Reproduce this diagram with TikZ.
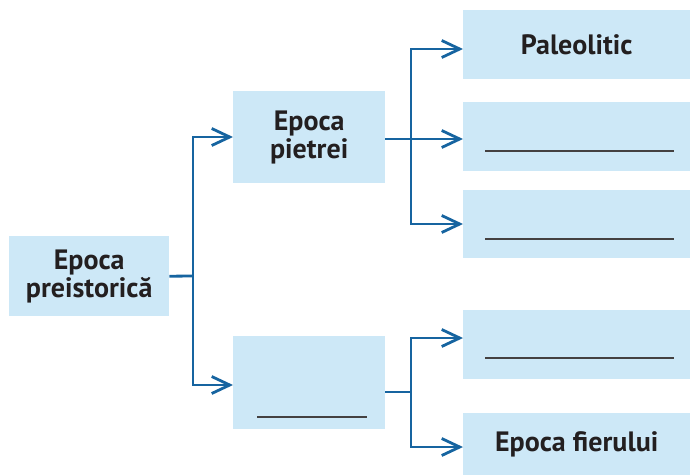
\documentclass[tikz,border=0pt]{standalone}
\usepackage{fontspec}
\setmainfont{PT Sans}
\usetikzlibrary{arrows.meta}
\definecolor{boxfill}{HTML}{CDE8F7}
\definecolor{linec}{HTML}{1664A0}
\definecolor{txt}{HTML}{231F20}
\begin{document}
\begin{tikzpicture}[x=1pt,y=-1pt,
  box/.style={fill=boxfill, inner sep=0pt, anchor=north west, align=center, text=txt,
    font=\fontsize{28}{28}\selectfont\bfseries},
  conn/.style={draw=linec, line width=2.8pt},
  arr/.style={conn, -{Straight Barb[length=18pt,width=17pt]}},
  blank/.style={draw=txt!85, line width=1.6pt}]
\path[use as bounding box] (0,0) rectangle (690,475);
% boxes
\node[box, minimum width=160pt, minimum height=80pt] (root) at (9,236) {Epoca\\preistorică};
\node[box, minimum width=152pt, minimum height=92pt] (pietrei) at (233,91) {Epoca\\pietrei};
\node[box, minimum width=152pt, minimum height=93pt] (mid2) at (233,336) {};
\node[box, minimum width=227pt, minimum height=69pt] (p1) at (463,10) {Paleolitic};
\node[box, minimum width=227pt, minimum height=69pt] (p2) at (463,102) {};
\node[box, minimum width=227pt, minimum height=68pt] (p3) at (463,190) {};
\node[box, minimum width=227pt, minimum height=69pt] (p4) at (463,310) {};
\node[box, minimum width=227pt, minimum height=62pt] (p5) at (463,413) {Epoca fierului};
% blank lines
\draw[blank] (485,151) -- (674,151);
\draw[blank] (485,239) -- (674,239);
\draw[blank] (485,358) -- (674,358);
\draw[blank] (257,417) -- (367,417);
% connectors from root
\coordinate (j1) at (193,276);
\coordinate (j1t) at (193,137);
\coordinate (j1b) at (193,385);
\draw[conn] (root.east) -- (j1);
\draw[arr] (j1b) -- (j1t) -- (j1t -| pietrei.west);
\draw[arr] (j1t) -- (j1b) -- (j1b -| mid2.west);
% connectors from pietrei
\coordinate (j2) at (411,139);
\coordinate (j2t) at (411,49);
\coordinate (j2b) at (411,224);
\draw[arr] (pietrei.east |- j2) -- (j2 -| p2.west);
\draw[arr] (j2b) -- (j2t) -- (j2t -| p1.west);
\draw[arr] (j2t) -- (j2b) -- (j2b -| p3.west);
% connectors from mid2
\coordinate (j3) at (411,392);
\coordinate (j3t) at (411,338);
\coordinate (j3b) at (411,447);
\draw[conn] (mid2.east |- j3) -- (j3);
\draw[arr] (j3b) -- (j3t) -- (j3t -| p4.west);
\draw[arr] (j3t) -- (j3b) -- (j3b -| p5.west);
\end{tikzpicture}
\end{document}
